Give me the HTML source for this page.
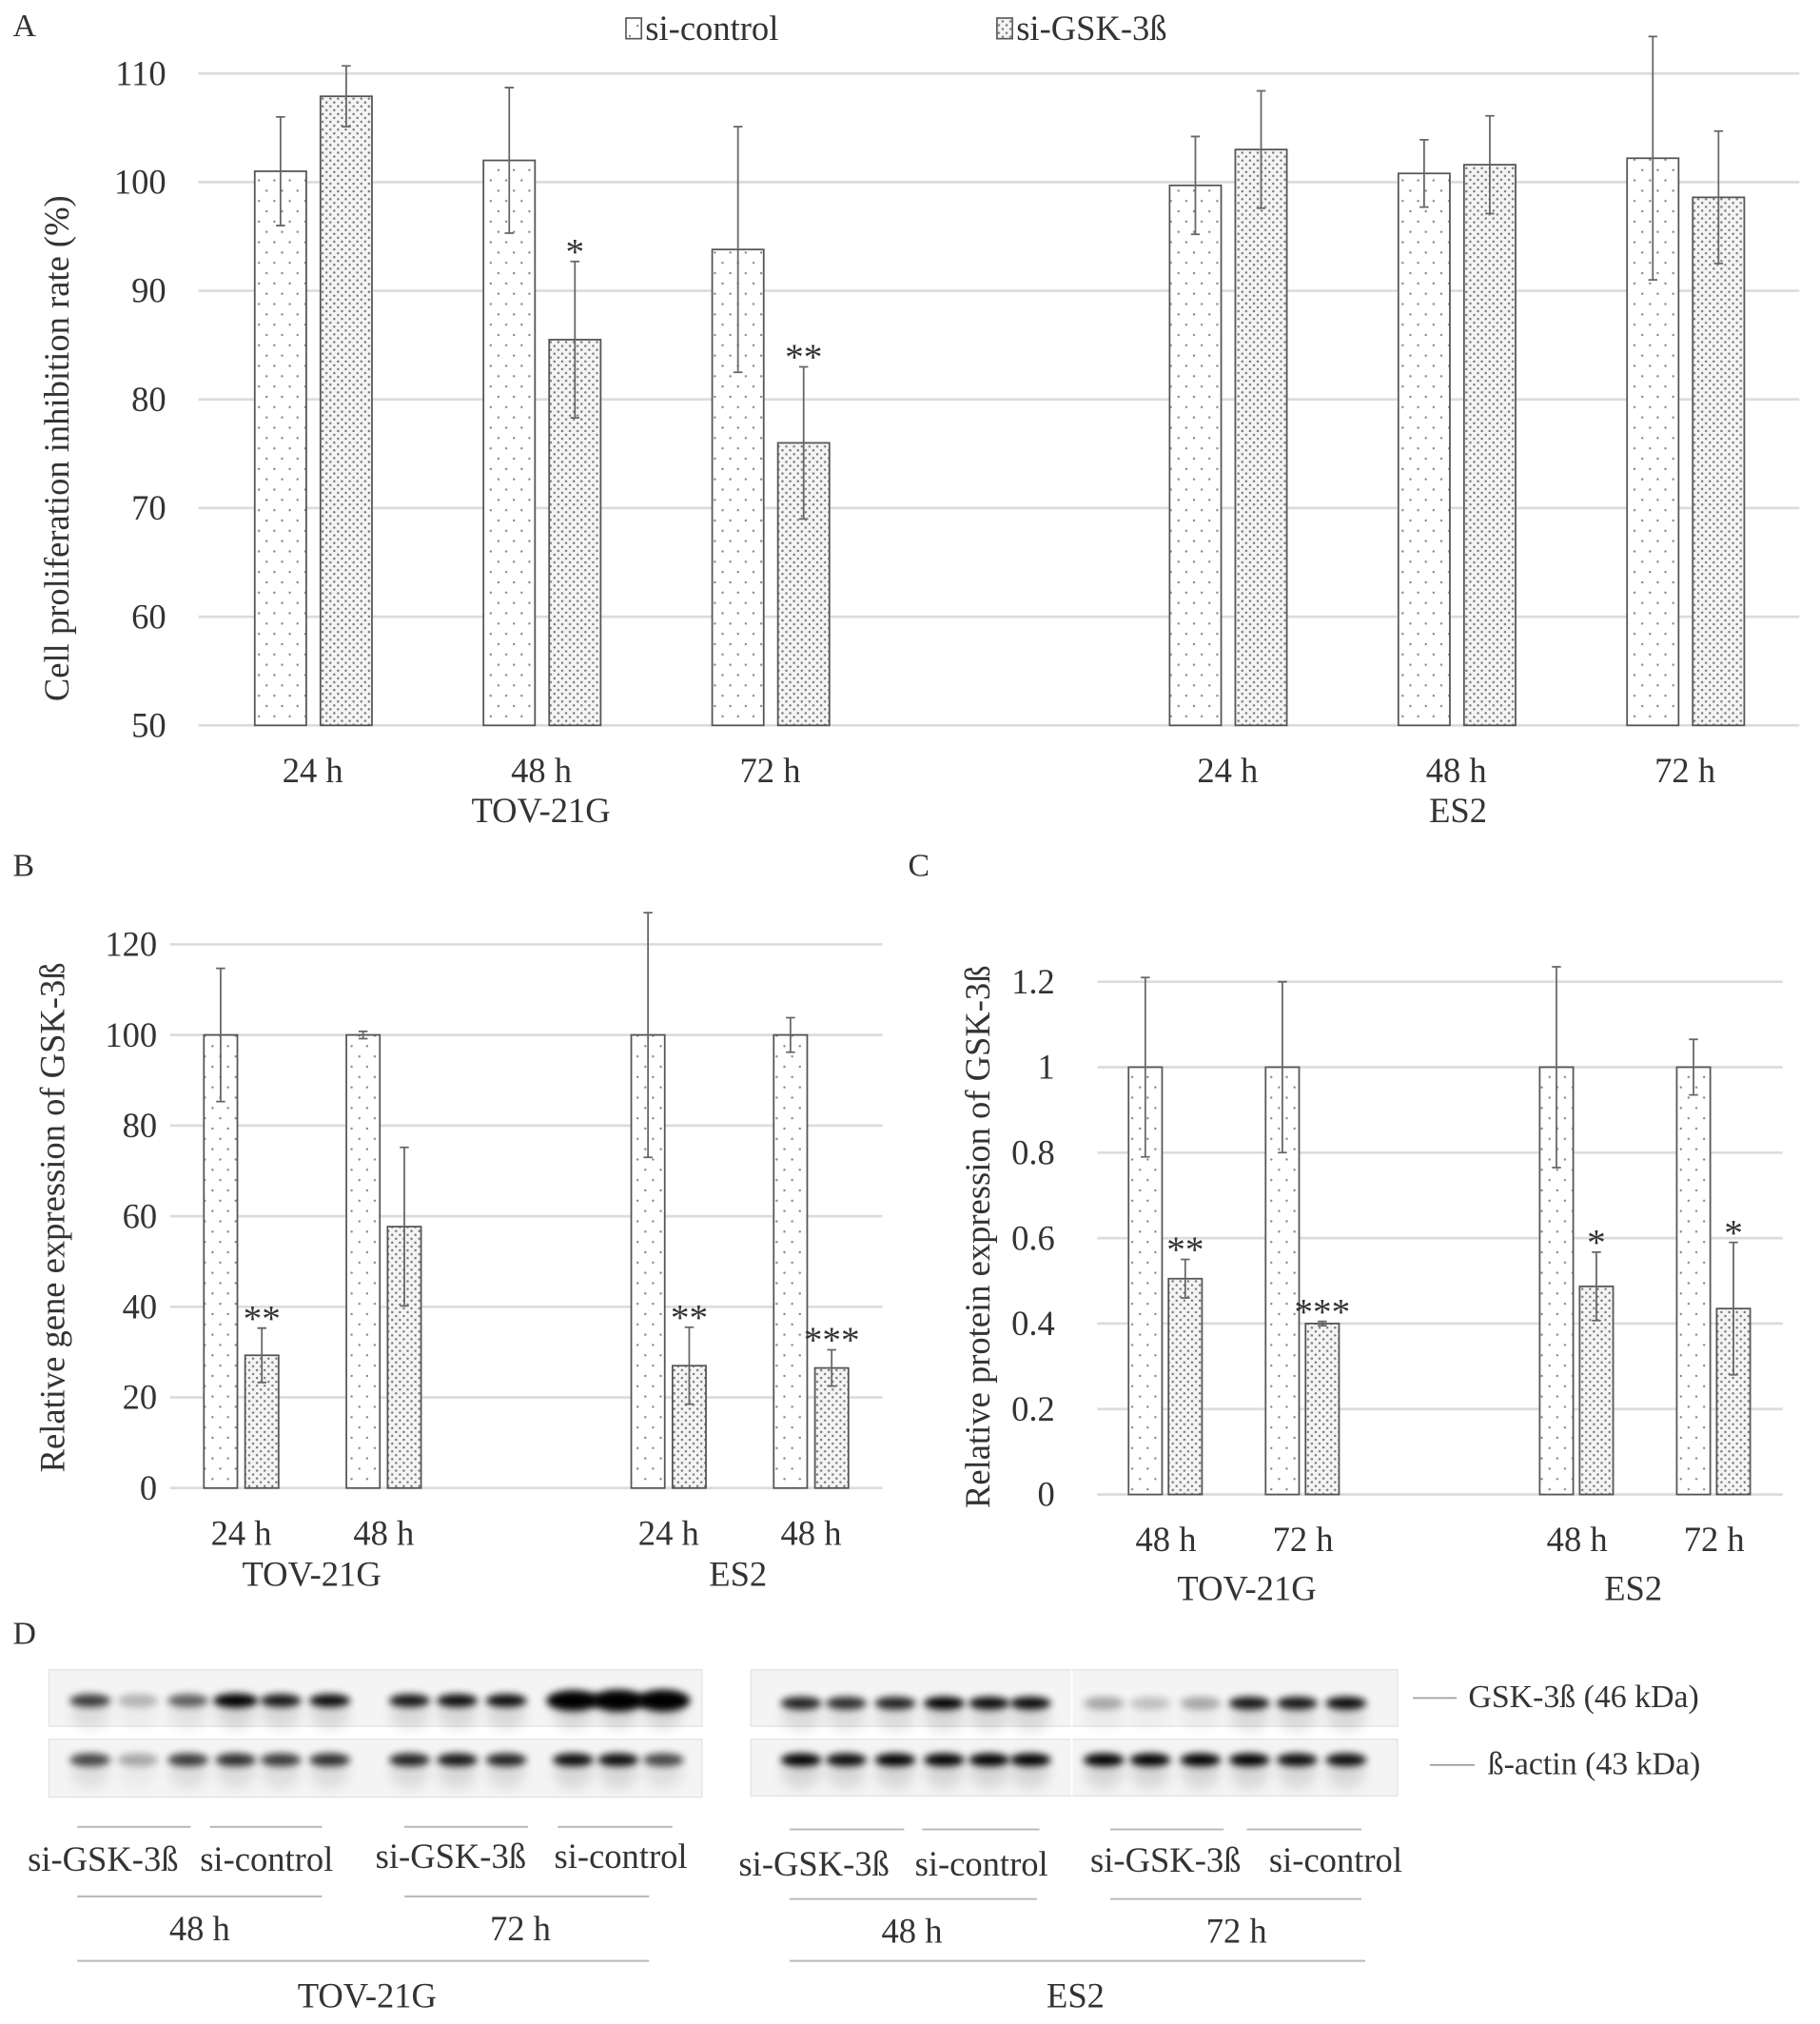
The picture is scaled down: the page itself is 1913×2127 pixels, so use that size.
<!DOCTYPE html>
<html><head><meta charset="utf-8"><style>
html,body{margin:0;padding:0;background:#fff}
svg{display:block}
text{font-family:"Liberation Serif",serif;fill:#333}
</style></head><body>
<svg id="fig" width="1913" height="2127" viewBox="0 0 1413 1571" xmlns="http://www.w3.org/2000/svg">
<defs>
<pattern id="pCtrl" width="12" height="16" patternUnits="userSpaceOnUse">
<rect width="12" height="16" fill="#fff"/><circle cx="3" cy="4" r="0.9" fill="#888"/><circle cx="9" cy="12" r="0.9" fill="#888"/>
</pattern>
<pattern id="pGsk" width="6" height="6" patternUnits="userSpaceOnUse">
<rect width="6" height="6" fill="#f4f4f4"/><circle cx="1.5" cy="1.5" r="0.9" fill="#777"/><circle cx="4.5" cy="4.5" r="0.9" fill="#777"/>
</pattern>
<filter id="blur" x="-50%" y="-100%" width="200%" height="300%"><feGaussianBlur stdDeviation="3"/></filter>
<filter id="blur2" x="-50%" y="-100%" width="200%" height="300%"><feGaussianBlur stdDeviation="5"/></filter>
</defs>
<g id="root"></g>
</svg>
<script>
// ---------- Panel A data ----------
const aGroups = ["24 h","48 h","72 h","","24 h","48 h","72 h"];
const aCtrl = [101, 102, 93.8, null, 99.7, 100.8, 102.2];
const aCtrlErr = [5, 6.7, 11.3, null, 4.5, 3.1, 11.2];
const aGsk = [107.9, 85.5, 76, null, 103, 101.6, 98.6];
const aGskErr = [2.8, 7.2, 7, null, 5.4, 4.5, 6.1];
const aStars = ["", "*", "**", "", "", "", ""];
const aTicks = [50, 60, 70, 80, 90, 100, 110];
// ---------- Panel B data ----------
const bGroups = ["24 h","48 h","","24 h","48 h"];
const bCtrl = [100, 100, null, 100, 100];
const bCtrlErr = [14.7, 0.8, null, 27, 3.8];
const bGsk = [29.3, 57.7, null, 27, 26.5];
const bGskErr = [6, 17.5, null, 8.5, 4];
const bStars = ["**", "", "", "**", "***"];
const bTicks = [0, 20, 40, 60, 80, 100, 120];
// ---------- Panel C data ----------
const cGroups = ["48 h","72 h","","48 h","72 h"];
const cCtrl = [1, 1, null, 1, 1];
const cCtrlErr = [0.21, 0.2, null, 0.235, 0.065];
const cGsk = [0.505, 0.4, null, 0.487, 0.435];
const cGskErr = [0.045, 0.005, null, 0.08, 0.155];
const cStars = ["**", "***", "", "*", "*"];
const cTicks = [0, 0.2, 0.4, 0.6, 0.8, 1, 1.2];
const cTickLabels = ["0","0.2","0.4","0.6","0.8","1","1.2"];

const NS = "http://www.w3.org/2000/svg";
const root = document.getElementById("root");
function mk(tag, attrs, parent){
  const e = document.createElementNS(NS, tag);
  for (const k in attrs) e.setAttribute(k, attrs[k]);
  (parent||root).appendChild(e);
  return e;
}
function txt(s, x, y, size, anchor, parent){
  const t = mk("text", {x:x, y:y, "font-size":size, "text-anchor":anchor||"middle"}, parent);
  t.textContent = s;
  return t;
}

function chart(p){
  const g = mk("g", {});
  
  
  const n = p.groups.length;
  const slot = (p.x1 - p.x0) / n;
  const xc = i => p.x0 + slot * (i + 0.5);
  const ymin = p.ticks[0], ymax = p.ticks[p.ticks.length-1];
  const ys = v => p.yBottom - (v - ymin) / (ymax - ymin) * (p.yBottom - p.yTop);
  p.ticks.forEach((t, i) => {
    const l = mk("line", {x1:p.x0, x2:p.x1, y1:ys(t), y2:ys(t), stroke:"#dcdcdc", "stroke-width":2}, g);
    
    
    const tl = txt(p.tickLabels ? p.tickLabels[i] : String(t), p.tickX, ys(t) + 9, p.tickSize, "end", g);
    
    
  });
  function bar(v, err, cx, fill, nm){
    if (v === null) return;
    const r = mk("rect", {x:cx - p.bw/2, y:ys(v), width:p.bw, height:ys(ymin) - ys(v), fill:fill, stroke:"#555", "stroke-width":1.3}, g);
    
    
    const top = ys(v + err), bot = ys(v - err);
    const e = mk("path", {d:`M${cx},${top}V${bot}M${cx-3.5},${top}H${cx+3.5}M${cx-3.5},${bot}H${cx+3.5}`, stroke:"#666", "stroke-width":1.3, fill:"none"}, g);
    
    
    return top;
  }
  p.groups.forEach((lab, i) => {
    const c = xc(i);
    bar(p.ctrl[i], p.ctrlErr[i], c + p.offC, "url(#pCtrl)", "bar-si-control");
    const top = bar(p.gsk[i], p.gskErr[i], c + p.offG, "url(#pGsk)", "bar-si-gsk3b");
    if (p.stars[i]) {
      const s = txt(p.stars[i], c + p.offG, top + 2, p.starSize, "middle", g);
      
      
    }
    if (lab) {
      const xl = txt(lab, c, p.labY, p.labSize, "middle", g);
      
      
    }
  });
  p.cells.forEach(cl => {
    const t = txt(cl[0], cl[1], p.cellY, p.labSize, "middle", g);
    
    
  });
  const yt = txt(p.title, 0, 0, p.titleSize, "middle", g);
  yt.setAttribute("transform", `translate(${p.titleX},${p.titleY}) rotate(-90)`);
  
  
}

chart({name:"chart-a", groups:aGroups, ctrl:aCtrl, ctrlErr:aCtrlErr, gsk:aGsk, gskErr:aGskErr, stars:aStars,
  ticks:aTicks, x0:154, x1:1397, yTop:57, yBottom:563, bw:40, offC:-25, offG:26, tickX:129, tickSize:27,
  labY:607, labSize:27, cellY:638, cells:[["TOV-21G",420],["ES2",1132]], starSize:29,
  title:"Cell proliferation inhibition rate (%)", titleX:53, titleY:348, titleSize:27});
chart({name:"chart-b", groups:bGroups, ctrl:bCtrl, ctrlErr:bCtrlErr, gsk:bGsk, gskErr:bGskErr, stars:bStars,
  ticks:bTicks, x0:132, x1:685, yTop:733, yBottom:1155, bw:26, offC:-16, offG:16, tickX:122, tickSize:27,
  labY:1199, labSize:27, cellY:1231, cells:[["TOV-21G",242],["ES2",573]], starSize:29,
  title:"Relative gene expression of GSK-3ß", titleX:50, titleY:945, titleSize:27});
chart({name:"chart-c", groups:cGroups, ctrl:cCtrl, ctrlErr:cCtrlErr, gsk:cGsk, gskErr:cGskErr, stars:cStars,
  ticks:cTicks, tickLabels:cTickLabels, x0:852, x1:1384, yTop:762, yBottom:1160, bw:26, offC:-16, offG:15, tickX:819, tickSize:27,
  labY:1204, labSize:27, cellY:1242, cells:[["TOV-21G",968],["ES2",1268]], starSize:29,
  title:"Relative protein expression of GSK-3ß", titleX:768, titleY:960, titleSize:27});

// panel letters
[["A",10,28],["B",10,680],["C",705,680],["D",10,1276]].forEach(l => {
  const t = txt(l[0], l[1], l[2], 25, "start");
  
  
});
// legend
const lg = mk("g", {});


[["si-control",486,"url(#pCtrl)"],["si-GSK-3ß",774,"url(#pGsk)"]].forEach(e => {
  const r = mk("rect", {x:e[1], y:14, width:12, height:16, fill:e[2], stroke:"#555", "stroke-width":1.2}, lg);
  
  
  const t = txt(e[0], e[1]+15, 31, 27, "start", lg);
  
  
});

// ---------- Panel D blots ----------
const dLeftLanes = [70,107,146,183,218,256,318,355,393,445,480,515];
const dRightLanes = [622,657,695,733,768,800,857,893,932,970,1007,1045];
const dLeftGsk = [0.75,0.25,0.6,1,0.9,0.95,0.9,0.95,0.95,1,1,1];
const dLeftGskSize = [1,1,1,1.1,1,1,1,1,1,1.6,1.7,1.7];
const dLeftAct = [0.7,0.3,0.75,0.8,0.75,0.8,0.85,0.9,0.85,0.95,0.95,0.7];
const dRightGsk = [0.85,0.8,0.85,1,0.95,0.95,0.3,0.2,0.3,0.9,0.9,0.95];
const dRightAct = [1,0.95,1,1,1,1,1,1,1,1,0.95,0.95];
const dg = mk("g", {});


[[38,1296,507,44],[38,1350,507,45],[583,1296,502,44],[583,1350,502,44]].forEach(b => {
  const r = mk("rect", {x:b[0], y:b[1], width:b[2], height:b[3], fill:"#f4f4f4", stroke:"#e4e4e4", "stroke-width":1}, dg);
  
  
});
mk("line", {x1:832, x2:832, y1:1296, y2:1394, stroke:"#fff", "stroke-width":1.5}, dg);
function bands(lanes, vals, y, sizes){
  lanes.forEach((x, i) => {
    const s = sizes ? sizes[i] : 1;
    const sm = mk("ellipse", {cx:x, cy:y + 10, rx:15, ry:12, fill:"#000", opacity:vals[i]*0.12, filter:"url(#blur2)"}, dg);
    
    
    const e = mk("ellipse", {cx:x, cy:y, rx:16*Math.min(s,1.3), ry:5*s, fill:"#000", opacity:vals[i], filter:"url(#blur)"}, dg);
    
    
  });
}
bands(dLeftLanes, dLeftGsk, 1320, dLeftGskSize);
bands(dLeftLanes, dLeftAct, 1366);
bands(dRightLanes, dRightGsk, 1322);
bands(dRightLanes, dRightAct, 1366);
[["GSK-3ß (46 kDa)",1140,1325,1097,1131,1318],["ß-actin (43 kDa)",1155,1377,1110,1145,1370]].forEach(l => {
  mk("line", {x1:l[3], x2:l[4], y1:l[5], y2:l[5], stroke:"#999", "stroke-width":1.2}, dg);
  const t = txt(l[0], l[1], l[2], 25, "start", dg);
  
  
});
const dLines = [[60,148,1418],[163,250,1418],[314,410,1418],[433,522,1418],[613,702,1420],[716,807,1420],[862,950,1420],[968,1057,1420],
  [60,250,1472],[314,504,1472],[613,805,1474],[862,1057,1474],[60,504,1522],[613,1060,1522]];
dLines.forEach(l => mk("line", {x1:l[0], x2:l[1], y1:l[2], y2:l[2], stroke:"#bbb", "stroke-width":1.5}, dg));
[["si-GSK-3ß",80,1452],["si-control",207,1452],["si-GSK-3ß",350,1450],["si-control",482,1450],
 ["si-GSK-3ß",632,1456],["si-control",762,1456],["si-GSK-3ß",905,1453],["si-control",1037,1453],
 ["48 h",155,1506],["72 h",404,1506],["48 h",708,1508],["72 h",960,1508],["TOV-21G",285,1558],["ES2",835,1558]].forEach(l => {
  const t = txt(l[0], l[1], l[2], 27, "middle", dg);
  
  
});
</script>
</body></html>
